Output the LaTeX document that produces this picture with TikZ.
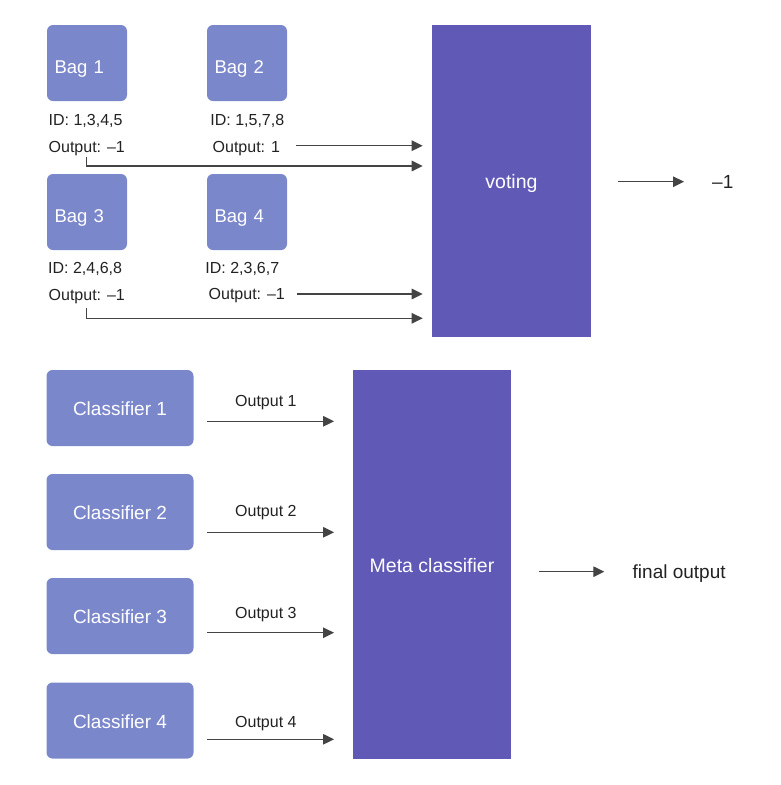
\documentclass[tikz,border=0pt]{standalone}
\usepackage{fontspec}
\setmainfont{Liberation Sans}
\usetikzlibrary{arrows.meta,calc}
\definecolor{lightbox}{RGB}{123,135,203}
\definecolor{darkbox}{RGB}{96,89,182}
\definecolor{arrowgray}{RGB}{68,68,68}
\definecolor{labelgray}{RGB}{34,34,34}
\begin{document}
\begin{tikzpicture}[x=1pt,y=-1pt,
  bagbox/.style={fill=lightbox, rounded corners=6pt, minimum height=76pt,
    text width=65pt, align=left, inner xsep=7.5pt, inner ysep=0pt,
    text=white, font=\fontsize{18.5}{21}\selectfont, text height=20pt, text depth=0pt},
  clsbox/.style={fill=lightbox, rounded corners=6pt, minimum width=147pt, minimum height=76pt,
    inner sep=0pt, text=white, font=\fontsize{19}{22}\selectfont, text height=15pt, text depth=0pt},
  bigbox/.style={fill=darkbox, inner sep=0pt, text=white,
    font=\fontsize{19.5}{22}\selectfont, text depth=0pt},
  lbl/.style={anchor=base west, inner sep=0pt, text=labelgray, font=\fontsize{16}{19}\selectfont},
  biglbl/.style={anchor=base west, inner sep=0pt, text=labelgray, font=\fontsize{19}{22}\selectfont},
  arr/.style={draw=arrowgray, line width=1.3pt, -{Triangle[length=11pt,width=10.5pt]}}
]
\useasboundingbox (0,0) rectangle (780,785);

% --- Bagging part ---
\node[bagbox] (bag1) at (87,63) {Bag 1};
\node[bagbox] (bag2) at (247,63) {Bag 2};
\node[bagbox] (bag3) at (87,212) {Bag 3};
\node[bagbox] (bag4) at (247,212) {Bag 4};

\node[lbl] (id1) at (48.5,125) {ID: 1,3,4,5};
\node[lbl] (o1)  at (48.5,152.3) {Output: --1};
\node[lbl] (id2) at (210.2,125) {ID: 1,5,7,8};
\node[lbl] (o2)  at (212.5,152.3) {Output: 1};
\node[lbl] (id3) at (48,273.5) {ID: 2,4,6,8};
\node[lbl] (o3)  at (48.5,300.5) {Output: --1};
\node[lbl] (id4) at (205.2,273) {ID: 2,3,6,7};
\node[lbl] (o4)  at (208.5,299) {Output: --1};

\node[bigbox, minimum width=159pt, minimum height=312pt, text height=14pt] (vote) at (511.5,181) {voting};

\coordinate (v1) at (422.7,145.7);
\coordinate (v2) at (422.7,166);
\coordinate (v3) at (422.7,294);
\coordinate (v4) at (422.7,318.3);

\draw[arr] ($(o2.east |- v1)+(16,0)$) -- (v1);
\draw[arr] ([yshift=-1.3pt]o1.south) |- (v2);
\draw[arr] ($(o4.east |- v3)+(12,0)$) -- (v3);
\draw[arr] ([yshift=-4pt]o3.south) |- (v4);

\coordinate (r1) at (684,181.7);
\draw[arr, shorten <=27pt] (vote.east |- r1) -- (r1);
\node[biglbl] (res) at (712,188.3) {--1};

% --- Stacking part ---
\node[clsbox] (c1) at (120,408) {Classifier 1};
\node[clsbox] (c2) at (120,512) {Classifier 2};
\node[clsbox] (c3) at (120,616) {Classifier 3};
\node[clsbox] (c4) at (120,720.5) {Classifier 4};

\node[bigbox, minimum width=158.3pt, minimum height=389pt, text height=15.6pt] (meta) at (432,564.5) {Meta classifier};

\coordinate (m1) at (334,421.3);
\coordinate (m2) at (334,532.3);
\coordinate (m3) at (334,632.7);
\coordinate (m4) at (334,739.3);

\draw[arr, shorten <=13.5pt] (c1.east |- m1) -- (m1);
\draw[arr, shorten <=13.5pt] (c2.east |- m2) -- (m2);
\draw[arr, shorten <=13.5pt] (c3.east |- m3) -- (m3);
\draw[arr, shorten <=13.5pt] (c4.east |- m4) -- (m4);

\node[lbl] (ol1) at (235,406.5) {Output 1};
\node[lbl] (ol2) at (235,516.7) {Output 2};
\node[lbl] (ol3) at (235,618.7) {Output 3};
\node[lbl] (ol4) at (235,727.7) {Output 4};

\coordinate (f1) at (604.3,571.7);
\draw[arr, shorten <=28pt] (meta.east |- f1) -- (f1);
\node[biglbl] (fin) at (632.5,578.3) {final output};
\end{tikzpicture}
\end{document}
